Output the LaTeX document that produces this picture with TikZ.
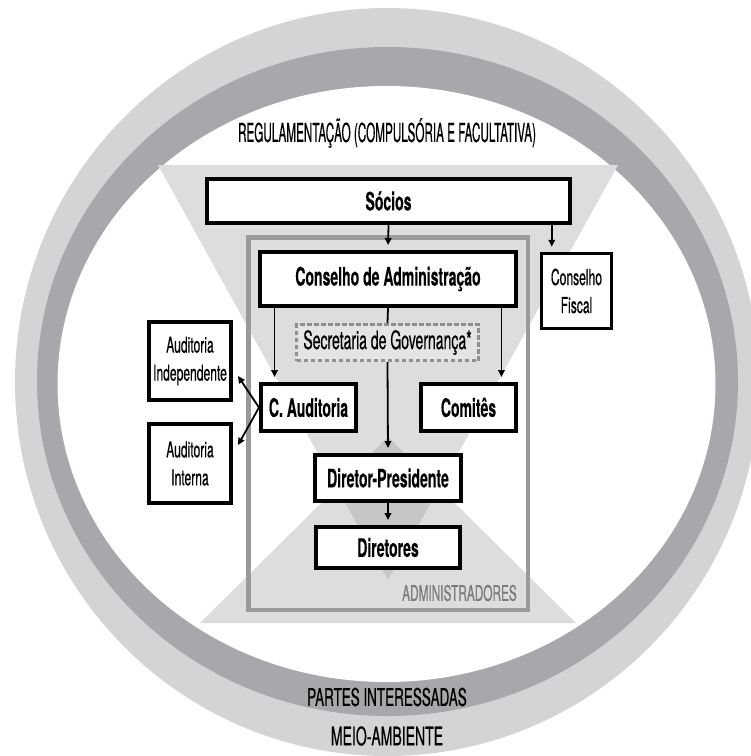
\documentclass[tikz,border=0pt]{standalone}
\usepackage{fontspec}
\setmainfont{TeX Gyre Heros}[FakeStretch=0.55, UprightFeatures={FakeBold=0.4}, BoldFeatures={FakeBold=0.2}]
\newfontfamily\captionfont{TeX Gyre Heros}[FakeStretch=0.45, FakeBold=0.4]
\usetikzlibrary{arrows.meta}

\definecolor{ringlight}{HTML}{D3D4D6}
\definecolor{ringdark}{HTML}{A7A8AB}
\definecolor{trigray}{HTML}{DCDDDF}
\definecolor{overlapgray}{HTML}{C5C6C8}
\definecolor{framegray}{HTML}{999A9C}
\definecolor{dashgray}{HTML}{8E8F91}
\definecolor{secfill}{HTML}{E3E4E6}
\definecolor{labelgray}{HTML}{7A7B7E}

\begin{document}
\begin{tikzpicture}[x=1pt, y=-1pt,
  box/.style={draw=black, line width=4pt, fill=white, inner sep=0pt,
    align=center, font=\fontsize{25.5}{27}\selectfont\bfseries},
  sidebox/.style={draw=black, line width=3.5pt, fill=white, inner sep=0pt,
    align=center, font=\fontsize{22}{28}\selectfont},
  arr/.style={line width=1.8pt, -{Triangle[length=7pt,width=6.5pt]}, shorten >=5pt},
  link/.style={line width=1.8pt},
  ringtext/.style={inner sep=0pt, font=\fontsize{24.5}{26}\selectfont},
]
\useasboundingbox (0,0) rectangle (751,756);
\clip (0,0) rectangle (751,756);

% outer rings
\fill[ringlight] (387,382) ellipse [x radius=372, y radius=374];
\fill[ringdark] (387.5,381.5) ellipse [x radius=350.5, y radius=334.5];
\fill[white] (386.5,384) ellipse [x radius=329, y radius=298];

% light triangles and their overlap
\fill[trigray] (158,165) -- (618,165) -- (388,580) -- cycle;
\fill[trigray] (388,437) -- (576,623) -- (200,623) -- cycle;
\begin{scope}
  \clip (388,437) -- (576,623) -- (200,623) -- cycle;
  \fill[overlapgray] (158,165) -- (618,165) -- (388,580) -- cycle;
\end{scope}

% frame of the executive bodies
\node[draw=framegray, line width=4.5pt, inner sep=0pt,
  minimum width=279.5pt, minimum height=372.5pt] (admin) at (388,423.5) {};
\node[anchor=east, inner sep=0pt, text=labelgray,
  font=\fontsize{21.5}{23}\selectfont] (admlabel) at (517,593) {ADMINISTRADORES};

% headline
\node[inner sep=0pt, font=\captionfont\fontsize{26}{28}\selectfont] (reg) at (387,133)
  {REGULAMENTAÇÃO (COMPULSÓRIA E FACULTATIVA)};

% boxes
\node[box, minimum width=363pt, minimum height=44pt] (socios) at (388.5,201) {Sócios};
\node[box, minimum width=256pt, minimum height=54pt] (ca) at (388,279) {Conselho de Administração};
\node[sidebox, minimum width=70pt, minimum height=75pt] (cf) at (576.5,291) {Conselho\\Fiscal};
\node[draw=dashgray, line width=3pt, dash pattern=on 4.5pt off 2.5pt, fill=secfill,
  inner sep=0pt, minimum width=182pt, minimum height=36pt,
  font=\fontsize{25.5}{27}\selectfont] (sec) at (387.5,342.5) {Secretaria de Governança*};
\node[box, minimum width=95pt, minimum height=47pt] (caud) at (308.5,407.5) {C. Auditoria};
\node[box, minimum width=95pt, minimum height=47pt] (comites) at (468.5,407.5) {Comitês};
\node[box, minimum width=146pt, minimum height=46pt] (dp) at (388,478) {Diretor-Presidente};
\node[box, minimum width=144pt, minimum height=41pt] (dir) at (388,547.5) {Diretores};
\node[sidebox, minimum width=82pt, minimum height=78pt] (audind) at (190,361) {Auditoria\\Independente};
\node[sidebox, minimum width=82pt, minimum height=79pt] (audint) at (190,463.5) {Auditoria\\Interna};

% connectors
\draw[arr] (socios.south) -- (ca.north);
\draw[arr] ([xshift=12pt]cf.north west |- socios.south) -- ([xshift=12pt]cf.north west);
\draw[link] (ca.south) -- (sec.north);
\draw[arr] (sec.south) -- (dp.north);
\draw[arr] (dp.south) -- (dir.north);
\draw[arr] ([xshift=15.5pt]caud.north west |- ca.south) -- ([xshift=15.5pt]caud.north west);
\draw[arr] ([xshift=-16.5pt]comites.north east |- ca.south) -- ([xshift=-16.5pt]comites.north east);
\coordinate (tipind) at (238,376);
\coordinate (tipint) at (238,445);
\draw[arr, shorten >=0pt] (caud.west) -- (tipind);
\draw[arr, shorten >=0pt] (caud.west) -- (tipint);

% outer stakeholders
\node[ringtext] (partes) at (387,697) {PARTES INTERESSADAS};
\node[ringtext, font=\fontsize{25.5}{27}\selectfont] (meio) at (387,736) {MEIO-AMBIENTE};
\end{tikzpicture}
\end{document}
